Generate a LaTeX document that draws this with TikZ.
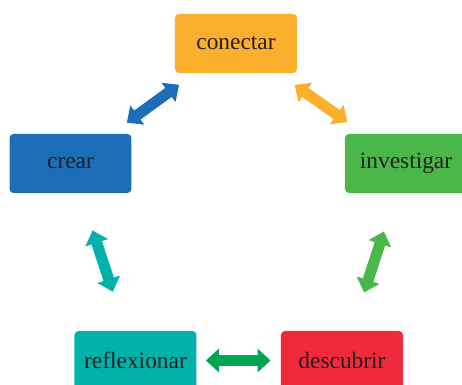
\documentclass[tikz,border=0pt]{standalone}
\usepackage{fontspec}
\setmainfont{Liberation Serif}
\usepackage{tikz}
\usetikzlibrary{arrows.meta}
\definecolor{corange}{HTML}{FBB02D}
\definecolor{cblue}{HTML}{1B6EB7}
\definecolor{cgreen}{HTML}{4AB848}
\definecolor{cteal}{HTML}{00B2A9}
\definecolor{cred}{HTML}{EE2A3C}
\definecolor{cdkgreen}{HTML}{00A651}
\definecolor{ctext}{HTML}{231F20}
\tikzset{
  stagebox/.style={rectangle, rounded corners=2pt, minimum width=61pt, minimum height=29.5pt, text=ctext, font=\fontsize{11.7}{14}\selectfont},
  dblarrow/.style={line width=5.5pt, {Triangle[width=11.5pt,length=6.5pt]}-{Triangle[width=11.5pt,length=6.5pt]}}
}

\begin{document}
\begin{tikzpicture}[x=0.5pt, y=0.5pt]
\path[use as bounding box, clip] (0,0) rectangle (462,385);
\node[stagebox, fill=corange] (con) at (236,341.5) {conectar};
\node[stagebox, fill=cblue] (cre) at (70.5,221.5) {crear};
\node[stagebox, fill=cgreen] (inv) at (406,221.5) {investigar};
\node[stagebox, fill=cteal] (ref) at (135.5,24.5) {reflexionar};
\node[stagebox, fill=cred] (des) at (342,24.5) {descubrir};
\draw [dblarrow, cblue, shorten <=9.3pt, shorten >=9.7pt] (cre) -- (con);
\draw [dblarrow, corange, shorten <=10pt, shorten >=10pt] (con) -- (inv);
\draw [dblarrow, cgreen, shorten <=20pt, shorten >=20pt] (inv) -- (des);
\draw [dblarrow, cdkgreen, shorten <=4.5pt, shorten >=5pt] (ref) -- (des);
\draw [dblarrow, cteal, shorten <=19.5pt, shorten >=20.5pt] (cre) -- (ref);
\end{tikzpicture}
\end{document}
